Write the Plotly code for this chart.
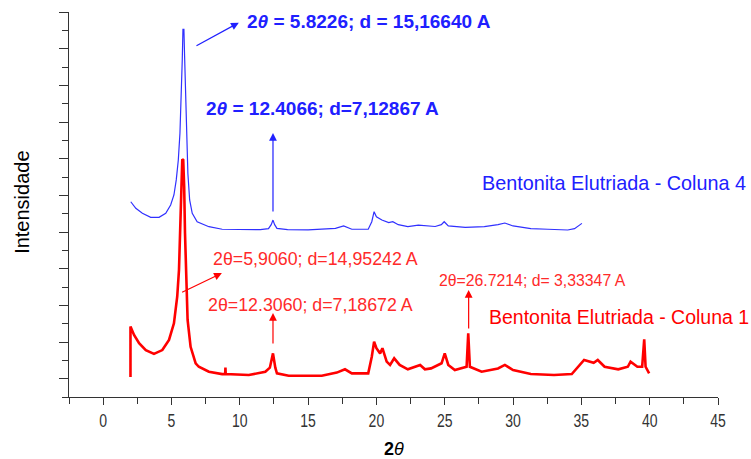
import plotly.graph_objects as go

# ---- data ----
blue_x = [2.02, 2.39, 2.87, 3.48, 4.09, 4.58, 4.94, 5.18, 5.35, 5.50, 5.62, 5.72, 5.79, 5.84,
          5.91, 5.96, 6.03, 6.11, 6.20, 6.33, 6.52, 6.88, 7.2, 7.74, 8.71, 10.0, 11.5, 12.1,
          12.3, 12.43, 12.55, 12.72, 13.5, 15.0, 16.5, 17.0, 17.6, 18.2, 19.4, 19.66, 19.83,
          20.0, 20.4, 20.9, 21.2, 21.6, 22.3, 23.07, 24.3, 24.75, 24.96, 25.26, 26.5, 27.9,
          28.9, 29.4, 30.0, 31.3, 32.55, 34.0, 34.5, 34.87, 35.04]
blue_y = [10.65, 10.29, 10.02, 9.80, 9.80, 10.02, 10.47, 11.02, 11.84, 12.93, 14.39, 16.2, 18.4, 20.05,
          20.05, 18.6, 16.2, 14.0, 12.2, 10.75, 10.02, 9.56, 9.45, 9.29, 9.15, 9.13, 9.13, 9.18,
          9.4, 9.65, 9.4, 9.2, 9.13, 9.12, 9.15, 9.2, 9.33, 9.15, 9.15, 9.56, 10.11,
          9.83, 9.65, 9.51, 9.56, 9.4, 9.29, 9.37, 9.3, 9.4, 9.56, 9.33, 9.25, 9.29,
          9.4, 9.49, 9.33, 9.18, 9.15, 9.11, 9.18, 9.38, 9.47]

red_x = [2.0, 2.0, 2.26, 2.63, 3.12, 3.72, 4.33, 4.82, 5.18, 5.42, 5.55, 5.67, 5.74, 5.79, 5.86,
         5.93, 5.99, 6.08, 6.18, 6.4, 6.77, 7.0, 7.74, 8.71, 8.93, 8.95, 8.97, 10.66, 11.87,
         12.2, 12.43, 12.6, 12.72, 13.58, 16.0, 17.1, 17.7, 18.2, 19.4, 19.66, 19.83, 20.0,
         20.27, 20.44, 20.75, 21.0, 21.3, 21.7, 22.3, 23.2, 23.55, 24.0, 24.77, 25.0, 25.26,
         25.74, 26.6, 26.72, 26.84, 27.7, 28.9, 29.4, 30.0, 31.3, 33.0, 34.3, 34.74, 35.2,
         35.9, 36.2, 36.7, 37.7, 38.4, 38.6, 39.1, 39.45, 39.6, 39.7, 39.96]
red_y = [1.09, 3.85, 3.38, 2.93, 2.56, 2.35, 2.56, 3.11, 4.02, 5.47, 6.93, 10.75, 12.2, 12.97, 12.93,
         11.47, 8.94, 6.2, 4.2, 2.74, 1.84, 1.65, 1.38, 1.25, 1.25, 1.6, 1.25, 1.2, 1.38,
         1.6, 2.38, 1.6, 1.29, 1.16, 1.16, 1.33, 1.51, 1.29, 1.29, 2.2, 3.02, 2.66,
         2.38, 2.66, 1.93, 1.75, 2.11, 1.75, 1.51, 1.75, 1.51, 1.56, 1.84, 2.38, 1.75,
         1.47, 1.65, 3.47, 1.65, 1.38, 1.56, 1.75, 1.47, 1.25, 1.2, 1.25, 1.65, 2.02,
         1.87, 2.02, 1.65, 1.51, 1.65, 1.93, 1.65, 1.65, 3.15, 1.65, 1.29]

x_ticks = [0, 5, 10, 15, 20, 25, 30, 35, 40, 45]
x_tick_labels = [str(v) for v in x_ticks]

BLUE = "#2020ff"
RED = "#ff0000"
RED_TXT = "#ff2a2a"
FONT = "Liberation Sans, Arial, sans-serif"

fig = go.Figure()
fig.add_trace(go.Scatter(x=blue_x, y=blue_y, mode="lines",
                         line=dict(color="#3030ff", width=1.2), showlegend=False))
fig.add_trace(go.Scatter(x=red_x, y=red_y, mode="lines",
                         line=dict(color=RED, width=2.6), showlegend=False))

ann = []
def arrow(x, y, ax, ay, color):
    ann.append(dict(x=x, y=y, ax=ax, ay=ay, xref="x", yref="y", axref="x", ayref="y",
                    showarrow=True, arrowhead=2, arrowsize=1.3, arrowwidth=1.2,
                    arrowcolor=color, standoff=0, startstandoff=0, text=""))

arrow(9.93, 20.42, 6.72, 19.11, BLUE)
arrow(12.43, 14.4, 12.43, 10.04, BLUE)
arrow(8.69, 6.76, 5.67, 5.67, RED)
arrow(12.43, 4.58, 12.43, 2.84, RED)
arrow(26.75, 5.84, 26.75, 3.66, RED)

def label(x, y, text, color, size, bold=False):
    ann.append(dict(x=x, y=y, xref="x", yref="y", xanchor="left", yanchor="middle",
                    showarrow=False, text=("<b>%s</b>" % text) if bold else text,
                    font=dict(family=FONT, size=size, color=color)))

label(10.35, 20.5, "2<i>θ</i> = 5.8226; d = 15,16640 A", BLUE, 19, True)
label(7.4, 15.75, "2<i>θ</i> = 12.4066; d=7,12867 A", BLUE, 19, True)
label(27.55, 11.7, "Bentonita Elutriada - Coluna 4", BLUE, 19.8)
label(7.9, 7.55, "2θ=5,9060; d=14,95242 A", RED_TXT, 17.8)
label(7.55, 5.0, "2θ=12.3060; d=7,18672 A", RED_TXT, 17.8)
label(24.45, 6.35, "2θ=26.7214; d= 3,33347 A", RED_TXT, 15.8)
label(28.1, 4.35, "Bentonita Elutriada - Coluna 1", RED, 19.5)

ann.append(dict(x=-0.0735, y=0.505, xref="paper", yref="paper", showarrow=False,
                text="Intensidade", textangle=-90, xanchor="center", yanchor="middle",
                font=dict(family=FONT, size=20, color="#000")))
ann.append(dict(x=0.5008, y=-0.135, xref="paper", yref="paper", showarrow=False,
                text="<b>2</b><i>θ</i>", xanchor="center", yanchor="middle",
                font=dict(family=FONT, size=18, color="#000")))

fig.update_layout(
    width=751, height=459,
    margin=dict(l=69, r=33, t=12, b=62),
    paper_bgcolor="white", plot_bgcolor="white",
    annotations=ann,
    xaxis=dict(range=[-2.5, 45], tickvals=x_ticks, ticktext=x_tick_labels,
               ticks="outside", ticklen=7, tickcolor="#333", showline=True, linecolor="#333",
               linewidth=1, showgrid=False, zeroline=False,
               tickfont=dict(family=FONT, size=18, color="#333"),
               minor=dict(dtick=2.5, tick0=0, ticks="outside", ticklen=6, tickcolor="#333")),
    yaxis=dict(range=[0, 21], tick0=1, dtick=2, ticks="outside", ticklen=9, tickcolor="#333",
               showticklabels=False, showline=True, linecolor="#333", linewidth=1,
               showgrid=False, zeroline=False,
               minor=dict(dtick=1, tick0=0, ticks="outside", ticklen=6, tickcolor="#333")),
)

post = """
document.body.style.margin = '0';
function narrowTicks() {
  document.querySelectorAll('g.xtick > text').forEach(function (t) {
    var tr = (t.getAttribute('transform') || '').replace(/\\s*scale\\([^)]*\\)/g, '');
    t.setAttribute('transform', tr + ' scale(0.78,1)');
  });
}
narrowTicks();
setTimeout(narrowTicks, 0);
setTimeout(narrowTicks, 200);
var gd = document.querySelector('.plotly-graph-div');
if (gd && gd.on) { gd.on('plotly_afterplot', narrowTicks); }
"""
fig.write_html("out.html", post_script=post, config={"displayModeBar": False})
